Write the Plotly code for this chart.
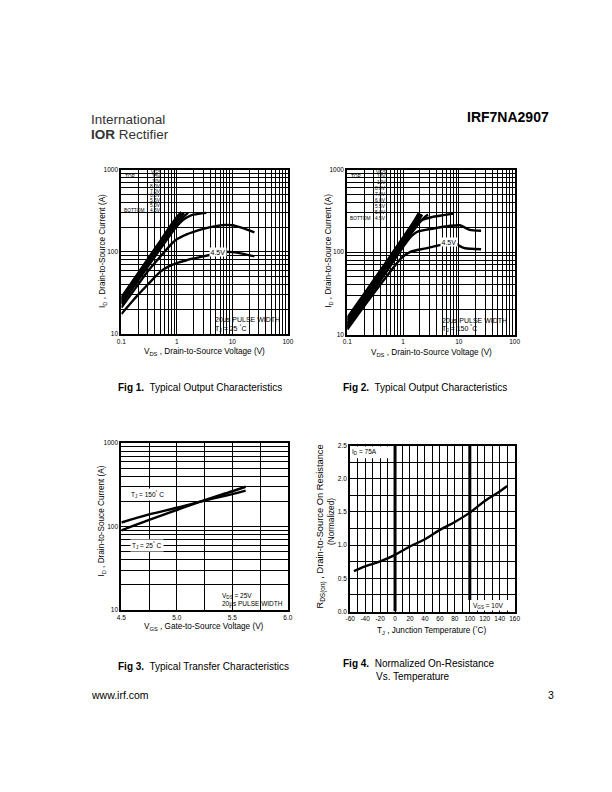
import math
import plotly.graph_objects as go

W, H = 612, 792
FONT = "Liberation Sans, Arial, Helvetica, sans-serif"

# ---------------- Fig 1 data (TJ = 25 C), ID vs VDS for each VGS ----------------
F1_LEGEND = ["15V", "10V", "8.0V", "7.0V", "6.0V", "5.5V", "5.0V", "4.5V"]
F1_V_15 = [0.1, 0.2, 0.3, 0.5, 0.7, 1.0, 1.2]
F1_I_15 = [28, 55, 82, 135, 190, 265, 305]
F1_V_10 = [0.1, 0.2, 0.3, 0.5, 0.7, 1.0, 1.25]
F1_I_10 = [27, 53, 79, 130, 182, 255, 300]
F1_V_8 = [0.1, 0.2, 0.3, 0.5, 0.7, 1.0, 1.3]
F1_I_8 = [26, 51, 76, 125, 175, 245, 298]
F1_V_7 = [0.1, 0.2, 0.3, 0.5, 0.7, 1.0, 1.35]
F1_I_7 = [25, 49, 73, 120, 168, 235, 295]
F1_V_6 = [0.1, 0.2, 0.3, 0.5, 0.7, 1.0, 1.6]
F1_I_6 = [24, 47, 70, 115, 160, 222, 300]
F1_V_55 = [0.1, 0.2, 0.3, 0.5, 0.8, 1.0, 1.3, 1.8, 2.5, 3.4]
F1_I_55 = [23, 45, 66, 108, 168, 205, 245, 278, 290, 297]
F1_V_5 = [0.1, 0.2, 0.3, 0.45, 0.6, 0.8, 1.0, 1.5, 2.0, 3.0, 5.0, 7.0, 10, 15, 25]
F1_I_5 = [21, 40, 58, 80, 100, 125, 142, 163, 175, 190, 205, 212, 210, 195, 172]
F1_V_45 = [0.1, 0.2, 0.3, 0.5, 0.7, 1.0, 1.5, 2.0, 3.0, 5.0, 7.0, 10, 15, 25]
F1_I_45 = [17.5, 30, 40, 57, 66, 73, 79, 83, 88, 95, 100, 99, 95, 88]

# ---------------- Fig 2 data (TJ = 150 C) ----------------
F2_V_15 = [0.1, 0.2, 0.5, 1.0, 1.5, 1.9]
F2_I_15 = [16, 31, 76, 150, 225, 295]
F2_V_10 = [0.1, 0.2, 0.5, 1.0, 1.5, 2.0]
F2_I_10 = [15, 29, 72, 142, 212, 290]
F2_V_8 = [0.1, 0.2, 0.5, 1.0, 1.5, 2.1]
F2_I_8 = [14, 27.5, 68, 135, 200, 288]
F2_V_7 = [0.1, 0.2, 0.5, 1.0, 1.5, 2.2]
F2_I_7 = [13.5, 26.5, 65, 128, 188, 284]
F2_V_6 = [0.1, 0.2, 0.5, 1.0, 1.5, 2.0, 2.5, 2.8]
F2_I_6 = [13, 25, 62, 122, 178, 230, 268, 285]
F2_V_55 = [0.1, 0.2, 0.5, 1.0, 1.5, 2.2, 3.5, 5.3, 8.0]
F2_I_55 = [12.5, 24, 60, 125, 195, 245, 268, 280, 292]
F2_V_5 = [0.1, 0.2, 0.5, 1.0, 1.3, 1.8, 3.5, 7.0, 10.4, 15.6, 25]
F2_I_5 = [12, 23, 57, 115, 146, 176, 193, 208, 211, 186, 181]
F2_V_45 = [0.1, 0.2, 0.5, 0.92, 1.38, 2.4, 4.6, 7.0, 8.5, 10.4, 13, 25]
F2_I_45 = [11.5, 22, 50, 84, 101, 110, 121, 132, 128, 118, 111, 108]

# ---------------- Fig 3 data (transfer) ----------------
F3_VGS = [4.5, 4.75, 5.0, 5.25, 5.5, 5.62]
F3_I_150C = [112, 140, 168, 205, 245, 270]
F3_I_25C = [90, 120, 158, 207, 265, 300]

# ---------------- Fig 4 data (normalized RDS(on)) ----------------
F4_TJ = [-55, -40, -20, 0, 20, 40, 60, 80, 100, 120, 140, 150]
F4_R = [0.61, 0.68, 0.755, 0.855, 0.98, 1.09, 1.23, 1.35, 1.49, 1.665, 1.81, 1.89]

# ---------------- tick labels ----------------
LOGX_LABELS = {0.1: "0.1", 1: "1", 10: "10", 100: "100"}
LOGY_LABELS = {10: "10", 100: "100", 1000: "1000"}
F3_X_TICKS = [4.5, 4.75, 5.0, 5.25, 5.5, 5.75, 6.0]
F3_X_TEXT = ["4.5", "", "5.0", "", "5.5", "", "6.0"]
F4_X_TICKS = list(range(-60, 161, 10))
F4_X_TEXT = [str(v) if v % 20 == 0 else "" for v in F4_X_TICKS]
F4_Y_TICKS = [0, 0.25, 0.5, 0.75, 1.0, 1.25, 1.5, 1.75, 2.0, 2.25, 2.5]
F4_Y_TEXT = ["0.0", "", "0.5", "", "1.0", "", "1.5", "", "2.0", "", "2.5"]


def log_ticks(lo_exp, hi_exp, labels):
    vals, txt = [], []
    for e in range(lo_exp, hi_exp):
        for m in range(1, 10):
            v = round(m * 10 ** e, 6)
            vals.append(v)
            txt.append(labels.get(v, ""))
    v = round(10 ** hi_exp, 6)
    vals.append(v)
    txt.append(labels.get(v, ""))
    return vals, txt


def px(x, y):
    return x / W, 1 - y / H


def dom_x(a, b):
    return [a / W, b / W]


def dom_y(top, bottom):
    return [1 - bottom / H, 1 - top / H]


def axis(domain, rng, vals, txt, anchor, log=False):
    d = dict(domain=domain, range=rng, tickmode="array", tickvals=vals, ticktext=txt,
             showgrid=True, gridcolor="black", gridwidth=1.4, showline=True,
             linecolor="black", linewidth=2, mirror=True, ticks="", zeroline=False,
             tickfont=dict(size=6.5, family=FONT, color="black"), anchor=anchor,
             fixedrange=True)
    if log:
        d["type"] = "log"
    return d


fig = go.Figure()

line_style = dict(color="black", width=2.4)
f1_series = [(F1_V_15, F1_I_15), (F1_V_10, F1_I_10), (F1_V_8, F1_I_8), (F1_V_7, F1_I_7),
             (F1_V_6, F1_I_6), (F1_V_55, F1_I_55), (F1_V_5, F1_I_5), (F1_V_45, F1_I_45)]
for (xv, yv), name in zip(f1_series, F1_LEGEND):
    fig.add_trace(go.Scatter(x=xv, y=yv, mode="lines", line=dict(line_style, shape="spline", smoothing=0.6),
                             name=name, xaxis="x", yaxis="y", showlegend=False))
f2_series = [(F2_V_15, F2_I_15), (F2_V_10, F2_I_10), (F2_V_8, F2_I_8), (F2_V_7, F2_I_7),
             (F2_V_6, F2_I_6), (F2_V_55, F2_I_55), (F2_V_5, F2_I_5), (F2_V_45, F2_I_45)]
for (xv, yv), name in zip(f2_series, F1_LEGEND):
    fig.add_trace(go.Scatter(x=xv, y=yv, mode="lines", line=dict(line_style, shape="spline", smoothing=0.6),
                             name=name, xaxis="x2", yaxis="y2", showlegend=False))
fig.add_trace(go.Scatter(x=F3_VGS, y=F3_I_150C, mode="lines", line=dict(line_style, shape="spline"),
                         xaxis="x3", yaxis="y3", showlegend=False))
fig.add_trace(go.Scatter(x=F3_VGS, y=F3_I_25C, mode="lines", line=dict(line_style, shape="spline"),
                         xaxis="x3", yaxis="y3", showlegend=False))
fig.add_trace(go.Scatter(x=F4_TJ, y=F4_R, mode="lines", line=dict(line_style, shape="spline"),
                         xaxis="x4", yaxis="y4", showlegend=False))

lx_vals, lx_txt = log_ticks(-1, 2, LOGX_LABELS)
ly_vals, ly_txt = log_ticks(1, 3, LOGY_LABELS)

fig.update_layout(
    width=W, height=H, margin=dict(l=0, r=0, t=0, b=0),
    paper_bgcolor="white", plot_bgcolor="white",
    font=dict(family=FONT, color="black"),
    xaxis=axis(dom_x(118.5, 288), [-1, 2], lx_vals, lx_txt, "y", log=True),
    yaxis=axis(dom_y(167, 333), [1, 3], ly_vals, ly_txt, "x", log=True),
    xaxis2=axis(dom_x(348.5, 519), [-1, 2], lx_vals, lx_txt, "y2", log=True),
    yaxis2=axis(dom_y(167, 333.5), [1, 3], ly_vals, ly_txt, "x2", log=True),
    xaxis3=axis(dom_x(118.5, 288), [4.5, 6.0], F3_X_TICKS, F3_X_TEXT, "y3"),
    yaxis3=axis(dom_y(443, 611.5), [1, 3], ly_vals, ly_txt, "x3", log=True),
    xaxis4=axis(dom_x(351.5, 519), [-60, 160], F4_X_TICKS, F4_X_TEXT, "y4"),
    yaxis4=axis(dom_y(445.5, 613), [0, 2.5], F4_Y_TICKS, F4_Y_TEXT, "x4"),
)

L = math.log10
LI = 0.02      # ~1px inset on log axes (decades)
shapes = []
white = dict(type="rect", fillcolor="white", line=dict(width=0), layer="above")
# legend areas (no grid) -- no traces pass through these regions
shapes.append(dict(white, xref="x", yref="y", x0=L(0.1) + LI, x1=L(0.56), y0=L(200), y1=L(1000) - LI))
shapes.append(dict(white, xref="x2", yref="y2", x0=L(0.1) + LI, x1=L(0.57), y0=L(200), y1=L(1000) - LI))
# note boxes
shapes.append(dict(white, xref="x", yref="y", x0=L(5.0), x1=L(100) - LI, y0=L(10) + LI, y1=L(17.5)))
shapes.append(dict(white, xref="x2", yref="y2", x0=L(4.8), x1=L(100) - LI, y0=L(10) + LI, y1=L(16.2)))
shapes.append(dict(white, xref="x3", yref="y3", x0=5.38, x1=5.99, y0=L(10) + LI, y1=L(18.1)))
shapes.append(dict(white, xref="x4", yref="y4", x0=-58.7, x1=-7, y0=2.31, y1=2.485))
shapes.append(dict(white, xref="x4", yref="y4", x0=104, x1=158.7, y0=0.015, y1=0.175))
# heavy grid lines
thick = dict(type="line", line=dict(color="black", width=3), layer="between")
shapes.append(dict(thick, xref="x3", yref="y3", x0=5.5, x1=5.5, y0=L(18.1), y1=L(1000)))
shapes.append(dict(thick, xref="x4", yref="y4", x0=0, x1=0, y0=0, y1=2.5))
shapes.append(dict(thick, xref="x4", yref="y4", x0=100, x1=100, y0=0.175, y1=2.5))
fig.update_layout(shapes=shapes)

ann = []


def text(x, y, s, size, xanchor="left", yanchor="middle", angle=0, **kw):
    if angle == 0:
        if xanchor == "left":
            x -= 3
        elif xanchor == "right":
            x += 3
    xp, yp = px(x, y)
    ann.append(dict(x=xp, y=yp, xref="paper", yref="paper", text=s, showarrow=False,
                    xanchor=xanchor, yanchor=yanchor, textangle=angle,
                    font=dict(size=size, family=FONT, color=kw.pop("color", "black")), **kw))


# header / footer
text(89, 116.5, "International", 13.5, color="#333")
text(89, 132, "<b>IOR</b> Rectifier", 13.5, color="#333")
text(553, 114, "<b>IRF7NA2907</b>", 14, xanchor="right")
text(89, 697, "www.irf.com", 10.5)
text(558, 697, "3", 10.5, xanchor="right")

# captions
text(116, 387, "<b>Fig 1.</b>\u00a0 Typical Output Characteristics", 10)
text(345, 387, "<b>Fig 2.</b>\u00a0 Typical Output Characteristics", 10)
text(116, 668, "<b>Fig 3.</b>\u00a0 Typical Transfer Characteristics", 10)
text(345, 665, "<b>Fig 4.</b>\u00a0 Normalized On-Resistance", 10)
text(415, 679, "Vs. Temperature", 10, xanchor="center")

# axis titles
AT = 8.2
text(203, 351, "V<sub>DS</sub> , Drain-to-Source Voltage (V)", AT, xanchor="center")
text(434, 352, "V<sub>DS</sub> , Drain-to-Source Voltage (V)", AT, xanchor="center")
text(203, 629, "V<sub>GS</sub> , Gate-to-Source Voltage (V)", AT, xanchor="center")
text(435, 632, "T<sub>J</sub> , Junction Temperature (<sup>°</sup>C)", AT, xanchor="center")
text(100, 249, "I<sub>D</sub> , Drain-to-Source Current (A)", AT, xanchor="center", angle=-90)
text(330, 249, "I<sub>D</sub> , Drain-to-Source Current (A)", AT, xanchor="center", angle=-90)
text(99, 522, "I<sub>D</sub> , Drain-to-Souce Current (A)", AT, xanchor="center", angle=-90)
text(322, 527, "R<sub>DS(on)</sub> , Drain-to-Source On Resistance", 9.3, xanchor="center", angle=-90)
text(332.5, 522, "(Normalized)", AT, xanchor="center", angle=-90)

# legend blocks in Fig 1 / Fig 2
f1_leg_y = [174.3 + 4.8 * i for i in range(8)]
f2_leg_y = [174.3 + 5.95 * i for i in range(8)]
text(157.5, 170.2, "VGS", 4.8, xanchor="right")
text(387.5, 170.2, "VGS", 4.8, xanchor="right")
for lab, y1, y2 in zip(F1_LEGEND, f1_leg_y, f2_leg_y):
    text(157.5, y1, lab, 4.8, xanchor="right")
    text(387.5, y2, lab, 4.8, xanchor="right")
text(123, f1_leg_y[0], "TOP", 4.8)
text(353, f2_leg_y[0], "TOP", 4.8)
text(122, f1_leg_y[-1], "BOTTOM", 4.8)
text(352, f2_leg_y[-1], "BOTTOM", 4.8)

# in-plot notes
text(216.5, 250, "4.5V", 7, xanchor="center", bgcolor="white", borderpad=0.5)
text(452, 240, "4.5V", 7, xanchor="center", bgcolor="white", borderpad=0.5)
text(215, 319, "20µs PULSE WIDTH", 7)
text(215, 327.5, "T<sub>J</sub> = 25 <sup>°</sup>C", 7)
text(446, 320, "20µs PULSE WIDTH", 7)
text(446, 327.5, "T<sub>J</sub> = 150 <sup>°</sup>C", 7)
text(145, 495, "T<sub>J</sub> = 150<sup>°</sup> C", 6.5, xanchor="center", bgcolor="white", borderpad=1)
text(145, 546, "T<sub>J</sub> = 25<sup>°</sup> C", 6.5, xanchor="center", bgcolor="white", borderpad=1)
text(222, 597, "V<sub>DS</sub> = 25V", 6.5)
text(222, 605, "20µs PULSE WIDTH", 6.5)
text(354, 451.5, "I<sub>D</sub> = 75A", 6.5)
text(478, 607.5, "V<sub>GS</sub> = 10V", 6.5)

fig.update_layout(annotations=ann)
fig.write_html("out.html", config={"displayModeBar": False},
               post_script="document.body.style.margin='0px';")
